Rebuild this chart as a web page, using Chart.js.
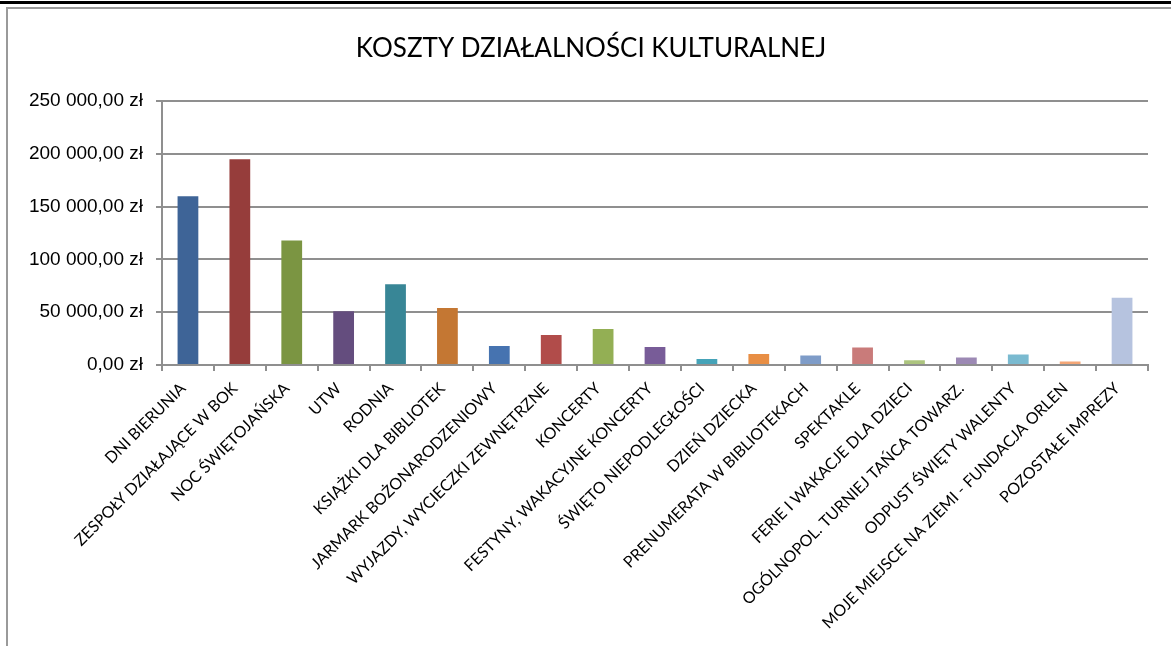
<!DOCTYPE html>
<html>
<head>
<meta charset="utf-8">
<script src="https://cdn.jsdelivr.net/npm/chart.js@4.4.0/dist/chart.umd.min.js"></script>
<style>
  body { margin: 0; background: #fff; overflow: hidden; }
  .topline { position: absolute; left: 0; top: 1px; width: 1171px; height: 3px; background: #000; }
  .box { position: absolute; left: 6px; top: 7px; width: 1200px; height: 700px; border: 2px solid #9a9a9a; }
  #wrap { position: absolute; left: 0; top: 0; width: 1182px; height: 646px; }
</style>
</head>
<body>
<div class="topline"></div>
<div class="box"></div>
<div id="wrap"><canvas id="myChart" width="1182" height="646"></canvas></div>
<script>
  const categories = [
    'DNI BIERUNIA', 'ZESPOŁY DZIAŁAJĄCE W BOK', 'NOC ŚWIĘTOJAŃSKA', 'UTW', 'RODNIA',
    'KSIĄŻKI DLA BIBLIOTEK', 'JARMARK BOŻONARODZENIOWY', 'WYJAZDY, WYCIECZKI ZEWNĘTRZNE',
    'KONCERTY', 'FESTYNY, WAKACYJNE KONCERTY', 'ŚWIĘTO NIEPODLEGŁOŚCI', 'DZIEŃ DZIECKA',
    'PRENUMERATA W BIBLIOTEKACH', 'SPEKTAKLE', 'FERIE I WAKACJE DLA DZIECI',
    'OGÓLNOPOL. TURNIEJ TAŃCA TOWARZ.', 'ODPUST ŚWIĘTY WALENTY',
    'MOJE MIEJSCE NA ZIEMI - FUNDACJA ORLEN', 'POZOSTAŁE IMPREZY'
  ];
  const costs = [
    160000, 195000, 118000, 51000, 76500,
    54000, 18000, 28400, 34000, 17000, 5700, 10400,
    9000, 16500, 4500, 7000, 10000, 3200, 63700
  ];
  const barColors = [
    '#3e6497', '#963d3b', '#7b9542', '#644d7e', '#388696', '#c47733',
    '#4673b0', '#b14c4a', '#93af54', '#785c98', '#45a3b8', '#e88e44',
    '#7e9cc8', '#c97b7a', '#acc47e', '#9c89b4', '#7abad0', '#f4a676', '#b6c3df'
  ];
  const yMax = 250000;
  const yStep = 50000;

  function zloty(v) {
    return String(v).replace(/\B(?=(\d{3})+(?!\d))/g, ' ') + ',00 zł';
  }

  const ctx = document.getElementById('myChart');

  new Chart(ctx, {
    type: 'bar',
    data: {
      labels: categories,
      datasets: [{
        label: 'Koszty',
        data: costs,
        backgroundColor: barColors,
        barPercentage: 0.4,
        categoryPercentage: 1.0
      }]
    },
    options: {
      responsive: false,
      animation: false,
      layout: { padding: 0 },
      plugins: {
        legend: { display: false },
        tooltip: { enabled: false },
        title: {
          display: true,
          text: 'KOSZTY DZIAŁALNOŚCI KULTURALNEJ',
          color: '#000',
          font: { family: 'Lato', size: 26, weight: 'normal' },
          padding: { top: 33, bottom: 37 }
        }
      },
      scales: {
        x: {
          afterFit: function (scale) { scale.height = 281; },
          grid: { display: true, drawOnChartArea: false, drawTicks: true, tickLength: 6, color: '#8f8f8f', lineWidth: 2 },
          border: { display: true, color: '#8f8f8f', width: 2 },
          ticks: {
            autoSkip: false,
            maxRotation: 45,
            minRotation: 45,
            padding: 8,
            labelOffset: -5,
            color: '#000',
            font: { family: 'Lato', size: 16 }
          }
        },
        y: {
          min: 0,
          max: yMax,
          afterFit: function (scale) { scale.width = 162; },
          grid: { color: '#8f8f8f', lineWidth: 2, tickLength: 6 },
          border: { display: true, color: '#8f8f8f', width: 2 },
          ticks: {
            stepSize: yStep,
            padding: 13,
            color: '#000',
            font: { family: 'Liberation Sans', size: 19 },
            callback: function (v) { return zloty(v); }
          }
        },
        // empty right-hand space, keeps the plot ending where the reference ends
        yRight: {
          position: 'right',
          afterFit: function (scale) { scale.width = 34; },
          grid: { display: false },
          border: { display: false },
          ticks: { display: false }
        }
      }
    }
  });
</script>
</body>
</html>
